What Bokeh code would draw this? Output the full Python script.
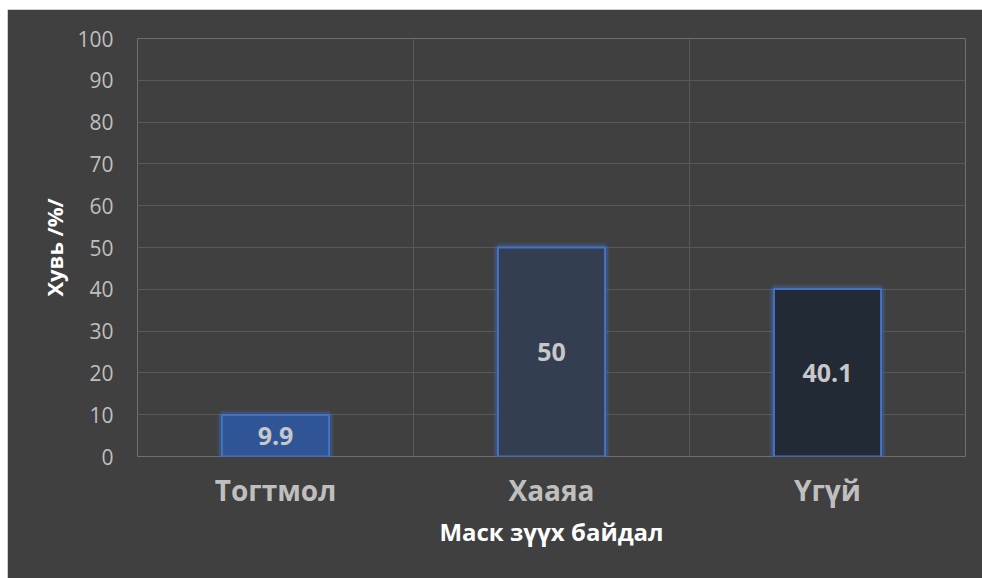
from bokeh.plotting import figure
from bokeh.models import ColumnDataSource, FixedTicker, Range1d, Spacer
from bokeh.layouts import column, row
from bokeh.core.properties import value
from bokeh.embed import file_html
from bokeh.resources import INLINE

categories = ["Тогтмол", "Хааяа", "Үгүй"]
values = [9.9, 50, 40.1]
labels = ["9.9", "50", "40.1"]
colors = ["#2F5597", "#333F50", "#222A35"]
y_ticks = list(range(0, 101, 10))

xs = [i + 0.5 for i in range(len(categories))]
mids = [v / 2 for v in values]
src = ColumnDataSource(dict(x=xs, top=values, mid=mids, label=labels, color=colors, cat=categories))

BG = "#404040"
p = figure(width=975, height=569, output_backend="svg", toolbar_location=None,
           x_range=Range1d(0, len(categories)), y_range=Range1d(0, 100),
           min_border_left=130, min_border_right=17, min_border_top=29, min_border_bottom=122)
p.background_fill_color = BG
p.border_fill_color = BG
p.outline_line_color = None

# glow
p.vbar(x="x", top="top", bottom=0, width=0.388, source=src, fill_color=None,
       line_color="#4472C4", line_alpha=0.15, line_width=10)
p.vbar(x="x", top="top", bottom=0, width=0.388, source=src, fill_color=None,
       line_color="#4472C4", line_alpha=0.25, line_width=6)
p.vbar(x="x", top="top", bottom=0, width=0.388, source=src, fill_color="color",
       line_color="#4472C4", line_width=2)
p.text(x="x", y="mid", text="label", source=src, text_align="center", text_baseline="middle",
       text_font=value("Open Sans"), text_font_style="bold", text_font_size="25px",
       text_color="#C8C8C8")

# y axis
p.yaxis.ticker = FixedTicker(ticks=y_ticks)
p.yaxis.axis_line_color = None
p.yaxis.major_tick_line_color = None
p.yaxis.minor_tick_line_color = None
p.yaxis.major_tick_out = 0
p.yaxis.major_label_standoff = 24
p.yaxis.major_label_text_font = "Open Sans"
p.yaxis.major_label_text_font_size = "21px"
p.yaxis.major_label_text_color = "#BFBFBF"
p.yaxis.axis_label = "Хувь /%/"
p.yaxis.axis_label_text_font = "Open Sans"
p.yaxis.axis_label_text_font_style = "bold"
p.yaxis.axis_label_text_font_size = "22px"
p.yaxis.axis_label_text_color = "#FFFFFF"
p.yaxis.axis_label_standoff = 5

# x axis
p.xaxis.ticker = FixedTicker(ticks=xs)
p.xaxis.major_label_overrides = {x: c for x, c in zip(xs, categories)}
p.xaxis.axis_line_color = None
p.xaxis.major_tick_line_color = None
p.xaxis.minor_tick_line_color = None
p.xaxis.major_tick_out = 0
p.xaxis.major_label_standoff = 14
p.xaxis.major_label_text_font = "Open Sans"
p.xaxis.major_label_text_font_style = "bold"
p.xaxis.major_label_text_font_size = "28px"
p.xaxis.major_label_text_color = "#BFBFBF"
p.xaxis.axis_label = "Маск зүүх байдал"
p.xaxis.axis_label_text_font = "Open Sans"
p.xaxis.axis_label_text_font_style = "bold"
p.xaxis.axis_label_text_font_size = "24px"
p.xaxis.axis_label_text_color = "#FFFFFF"
p.xaxis.axis_label_standoff = 3

p.ygrid.ticker = FixedTicker(ticks=y_ticks[1:])
p.ygrid.grid_line_color = "#595959"
p.xgrid.ticker = FixedTicker(ticks=list(range(len(categories) + 1)))
p.xgrid.grid_line_color = "#595959"

layout = column(Spacer(height=9, width=975),
                row(Spacer(width=7, height=569), p))
open("out.html", "w").write(file_html(layout, INLINE))
